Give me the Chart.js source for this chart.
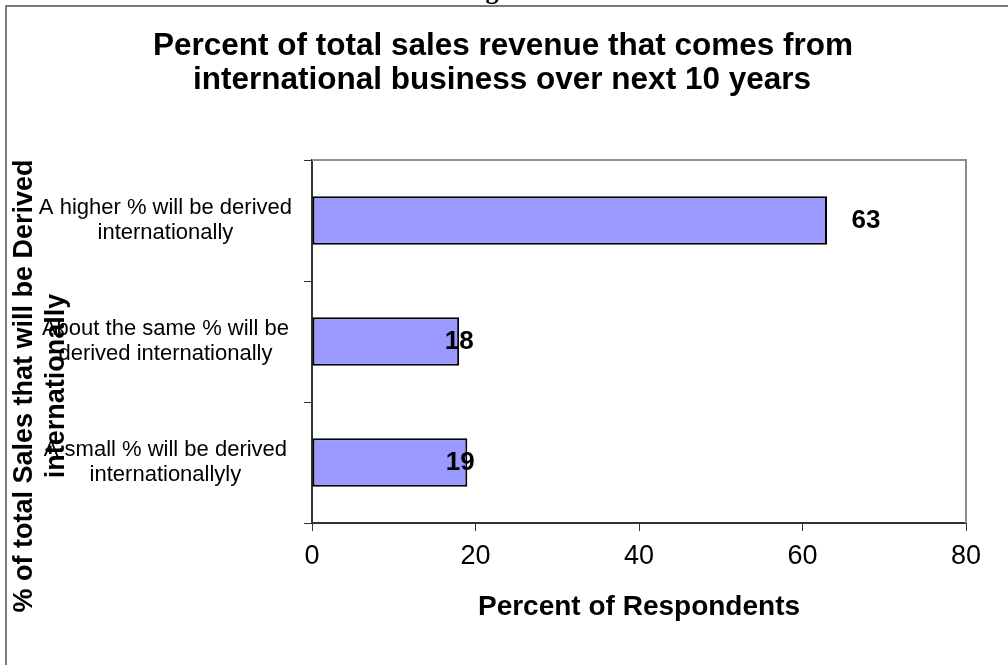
<!DOCTYPE html>
<html>
<head>
<meta charset="utf-8">
<title>International sales revenue</title>
<script src="https://cdn.jsdelivr.net/npm/chart.js@4"></script>
<style>
  body { margin: 0; background: #fff; }
  #wrap { width: 1008px; height: 665px; position: relative; }
</style>
</head>
<body>
<div id="wrap"><canvas id="sales_chart"></canvas></div>
<script>
// Survey answers and percent of respondents
var answers = [
  ["A higher % will be derived", "internationally"],
  ["About the same % will be", "derived internationally"],
  ["A small % will be derived", "internationallyly"]
];
var respondents = [63, 18, 19];
var x_ticks = [0, 20, 40, 60, 80];

var chart_title = ["Percent of total sales revenue that comes from", "international business over next 10 years"];
var y_title = ["% of total Sales that will be Derived", "internationally"];
var x_title = "Percent of Respondents";

// pixel nudges for the value labels, one per bar
var label_shift = [39, 0, -7];

var font_name = "'Liberation Sans', Arial, sans-serif";

// frame, plot border, titles and the clipped caption letter above the frame
var frame_plugin = {
  id: "frame",
  beforeDatasetsDraw: function (chart) {
    var ctx = chart.ctx;
    var a = chart.chartArea;
    ctx.save();
    ctx.strokeStyle = "#8c8c8c";
    ctx.lineWidth = 2;
    ctx.beginPath();
    ctx.moveTo(a.left, a.top);
    ctx.lineTo(a.right, a.top);
    ctx.lineTo(a.right, a.bottom);
    ctx.stroke();
    ctx.restore();
  },
  afterDraw: function (chart) {
    var ctx = chart.ctx;
    ctx.save();
    ctx.fillStyle = "#000";
    ctx.font = "bold 26px 'Liberation Serif', serif";
    ctx.textAlign = "center";
    ctx.textBaseline = "alphabetic";
    ctx.fillText("g", 492, -1);

    ctx.strokeStyle = "#7a7a7a";
    ctx.lineWidth = 2;
    ctx.beginPath();
    ctx.moveTo(6, 665);
    ctx.lineTo(6, 6);
    ctx.lineTo(1008, 6);
    ctx.stroke();

    // chart title, centred on the page
    ctx.font = "bold 31.5px " + font_name;
    ctx.textBaseline = "middle";
    ctx.fillText(chart_title[0], 503, 46);
    ctx.fillText(chart_title[1], 502, 80);

    // rotated y axis title, two lines
    ctx.font = "bold 27px " + font_name;
    ctx.translate(0, 386);
    ctx.rotate(-Math.PI / 2);
    ctx.fillText(y_title[0], 0, 25);
    ctx.fillText(y_title[1], 0, 57);
    ctx.restore();
  }
};

// value labels next to the bars
var value_labels = {
  id: "value_labels",
  afterDatasetsDraw: function (chart) {
    var ctx = chart.ctx;
    var bars = chart.getDatasetMeta(0).data;
    ctx.save();
    ctx.fillStyle = "#000";
    ctx.font = "bold 26px " + font_name;
    ctx.textAlign = "center";
    ctx.textBaseline = "middle";
    for (var i = 0; i < bars.length; i++) {
      ctx.fillText(String(respondents[i]), bars[i].x + label_shift[i], bars[i].y);
    }
    ctx.restore();
  }
};

var ctx = document.getElementById("sales_chart").getContext("2d");

var chart = new Chart(ctx, {
  type: "bar",
  data: {
    labels: answers,
    datasets: [{
      data: respondents,
      backgroundColor: "#9999ff",
      borderColor: "#000",
      borderWidth: 2,
      borderSkipped: false,
      barPercentage: 0.4,
      categoryPercentage: 1.0
    }]
  },
  options: {
    indexAxis: "y",
    responsive: true,
    maintainAspectRatio: false,
    animation: false,
    layout: {
      padding: { left: 0, right: 42, top: 160, bottom: 0 }
    },
    plugins: {
      legend: { display: false },
      tooltip: { enabled: false },
      title: { display: false }
    },
    scales: {
      x: {
        type: "linear",
        min: 0,
        max: 80,
        afterBuildTicks: function (scale) {
          scale.ticks = x_ticks.map(function (v) { return { value: v }; });
        },
        afterFit: function (scale) {
          scale.height = 142;
        },
        border: { color: "#333", width: 2 },
        grid: {
          drawOnChartArea: false,
          drawTicks: true,
          tickLength: 8,
          color: "#333"
        },
        ticks: {
          color: "#000",
          padding: 9,
          maxRotation: 0,
          font: { family: font_name, size: 27 }
        },
        title: {
          display: true,
          text: x_title,
          color: "#000",
          font: { family: font_name, size: 28, weight: "bold" },
          padding: { top: 0, bottom: 41 }
        }
      },
      y: {
        afterFit: function (scale) {
          scale.width = 312;
        },
        border: { color: "#333", width: 2 },
        grid: {
          drawOnChartArea: false,
          drawTicks: true,
          tickLength: 8,
          color: "#333"
        },
        ticks: {
          color: "#000",
          padding: 12,
          crossAlign: "center",
          font: { family: font_name, size: 22, lineHeight: 1.1 }
        }
      }
    }
  },
  plugins: [frame_plugin, value_labels]
});
</script>
</body>
</html>
